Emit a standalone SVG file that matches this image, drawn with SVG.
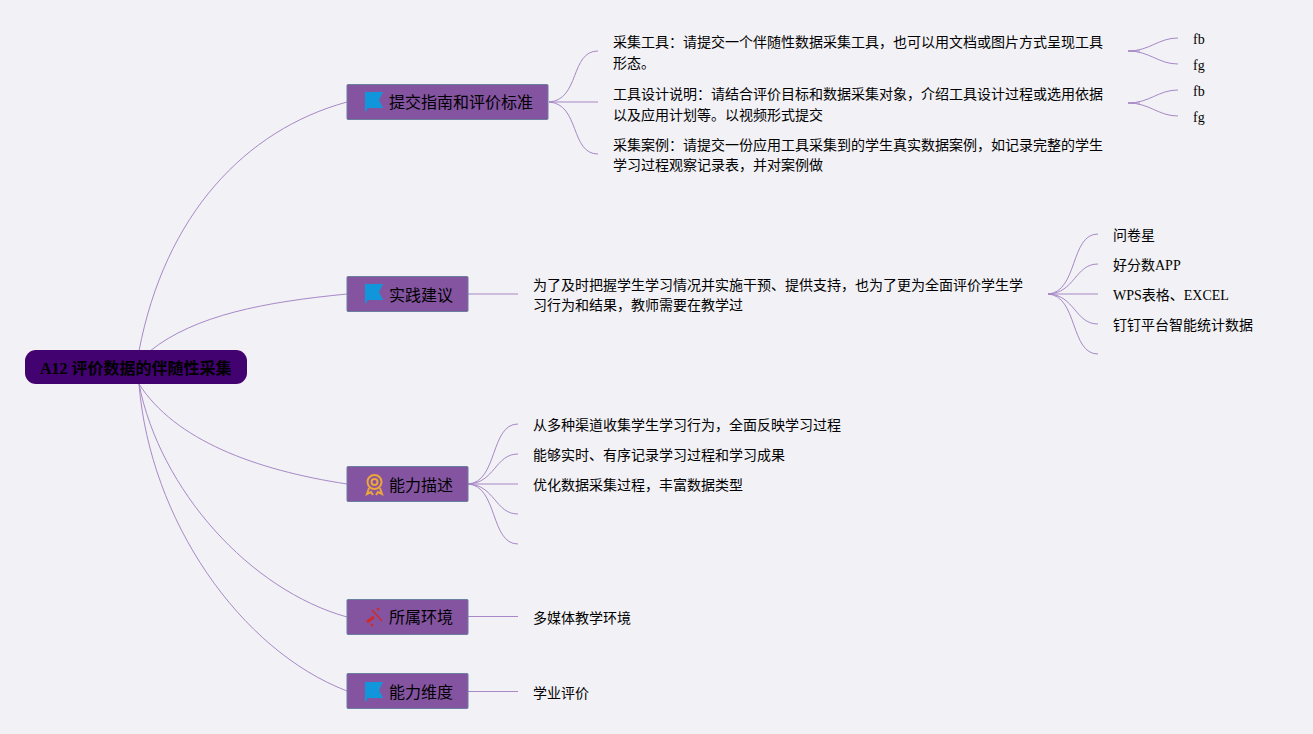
<svg xmlns="http://www.w3.org/2000/svg" width="1313" height="734" viewBox="0 0 1313 734">
<style>
text{font-family:"Liberation Serif","Noto Sans CJK SC",serif;fill:#000}
.t{font-size:14px}
.b{font-size:16px}
.r{font-size:16px;font-weight:bold}
.box{fill:#8454a0;stroke:#6b7f9e;stroke-width:1}
.c{fill:none;stroke:#a689c6;stroke-width:1}
.flag{fill:#1296db}
</style>
<defs>
<g id="flag"><path class="flag" d="M0 -8H18L14 0L18 8H2V11H0Z"/></g>
</defs>
<rect width="1313" height="734" fill="#f2f1f5"/>
<g id="connectors">
<path class="c" d="M139 351C165 215 245 130 347 102"/>
<path class="c" d="M150 351C195 315 265 302 347 294"/>
<path class="c" d="M139 384C175 440 255 470 347 484"/>
<path class="c" d="M139 384C160 490 250 590 347 617"/>
<path class="c" d="M139 384C150 520 240 650 347 691"/>
<path class="c" d="M549 102C580 100 570 51 598 51"/>
<path class="c" d="M549 102H598"/>
<path class="c" d="M549 102C580 104 570 154 598 154"/>
<path class="c" d="M1128 51C1150 51 1158 38 1178 38"/>
<path class="c" d="M1128 51C1150 51 1158 64 1178 64"/>
<path class="c" d="M1128 51H1140"/>
<path class="c" d="M1128 103C1150 103 1158 90 1178 90"/>
<path class="c" d="M1128 103C1150 103 1158 116 1178 116"/>
<path class="c" d="M1128 103H1140"/>
<path class="c" d="M468 294H518"/>
<path class="c" d="M1048 294C1078 292 1070 234 1098 234"/>
<path class="c" d="M1048 294C1075 293 1075 264 1098 264"/>
<path class="c" d="M1048 294H1098"/>
<path class="c" d="M1048 294C1075 295 1075 324 1098 324"/>
<path class="c" d="M1048 294C1078 296 1070 354 1098 354"/>
<path class="c" d="M468 484C498 482 490 424 518 424"/>
<path class="c" d="M468 484C495 483 495 454 518 454"/>
<path class="c" d="M468 484H518"/>
<path class="c" d="M468 484C495 485 495 514 518 514"/>
<path class="c" d="M468 484C498 486 490 544 518 544"/>
<path class="c" d="M468 616.500H518"/>
<path class="c" d="M468 691.500H518"/>
</g>
<g id="root"><rect x="25" y="350" width="222" height="34" rx="11" fill="#42026f"/><text class="r" x="40" y="374">A12 评价数据的伴随性采集</text></g>
<g id="n1"><rect class="box" x="347" y="84.500" width="201" height="35" rx="1"/><use href="#flag" x="365" y="100"/><text class="b" x="389" y="108">提交指南和评价标准</text></g>
<g id="n2"><rect class="box" x="347" y="276.500" width="121" height="35" rx="1"/><use href="#flag" x="365" y="292"/><text class="b" x="389" y="301">实践建议</text></g>
<g id="n3"><rect class="box" x="347" y="466.500" width="121" height="35" rx="1"/>
<g fill="none" stroke="#eca63a" stroke-width="2"><circle cx="374.500" cy="482" r="7"/><circle cx="374.500" cy="482" r="3"/><path d="M369 488L367 494L371 492L373 495M380 488L382 494L378 492L376 495"/></g>
<text class="b" x="389" y="491">能力描述</text></g>
<g id="n4"><rect class="box" x="347" y="599.500" width="121" height="35" rx="1"/>
<g stroke="#cf2a2a" fill="#cf2a2a"><path d="M372 610L382 621" stroke-width="1.500"/><path d="M367 622L374 617" stroke-width="3"/><circle cx="378" cy="609" r="1"/><circle cx="372" cy="625" r="1"/></g>
<text class="b" x="389" y="623">所属环境</text></g>
<g id="n5"><rect class="box" x="347" y="673.500" width="121" height="35" rx="1"/><use href="#flag" x="365" y="690"/><text class="b" x="389" y="698">能力维度</text></g>
<g id="leaf1"><text class="t" x="613" y="47">采集工具：请提交一个伴随性数据采集工具，也可以用文档或图片方式呈现工具</text><text class="t" x="613" y="68">形态。</text></g>
<g id="leaf2"><text class="t" x="613" y="99">工具设计说明：请结合评价目标和数据采集对象，介绍工具设计过程或选用依据</text><text class="t" x="613" y="120">以及应用计划等。以视频形式提交</text></g>
<g id="leaf3"><text class="t" x="613" y="150">采集案例：请提交一份应用工具采集到的学生真实数据案例，如记录完整的学生</text><text class="t" x="613" y="170">学习过程观察记录表，并对案例做</text></g>
<g id="leaf4"><text class="t" x="1193" y="44">fb</text></g>
<g id="leaf5"><text class="t" x="1193" y="70">fg</text></g>
<g id="leaf6"><text class="t" x="1193" y="96">fb</text></g>
<g id="leaf7"><text class="t" x="1193" y="122">fg</text></g>
<g id="leaf8"><text class="t" x="533" y="290">为了及时把握学生学习情况并实施干预、提供支持，也为了更为全面评价学生学</text><text class="t" x="533" y="310">习行为和结果，教师需要在教学过</text></g>
<g id="leaf9"><text class="t" x="1113" y="240">问卷星</text></g>
<g id="leaf10"><text class="t" x="1113" y="270">好分数APP</text></g>
<g id="leaf11"><text class="t" x="1113" y="300">WPS表格、EXCEL</text></g>
<g id="leaf12"><text class="t" x="1113" y="330">钉钉平台智能统计数据</text></g>
<g id="leaf13"><text class="t" x="533" y="430">从多种渠道收集学生学习行为，全面反映学习过程</text></g>
<g id="leaf14"><text class="t" x="533" y="460">能够实时、有序记录学习过程和学习成果</text></g>
<g id="leaf15"><text class="t" x="533" y="490">优化数据采集过程，丰富数据类型</text></g>
<g id="leaf16"><text class="t" x="533" y="623">多媒体教学环境</text></g>
<g id="leaf17"><text class="t" x="533" y="698">学业评价</text></g>
</svg>
